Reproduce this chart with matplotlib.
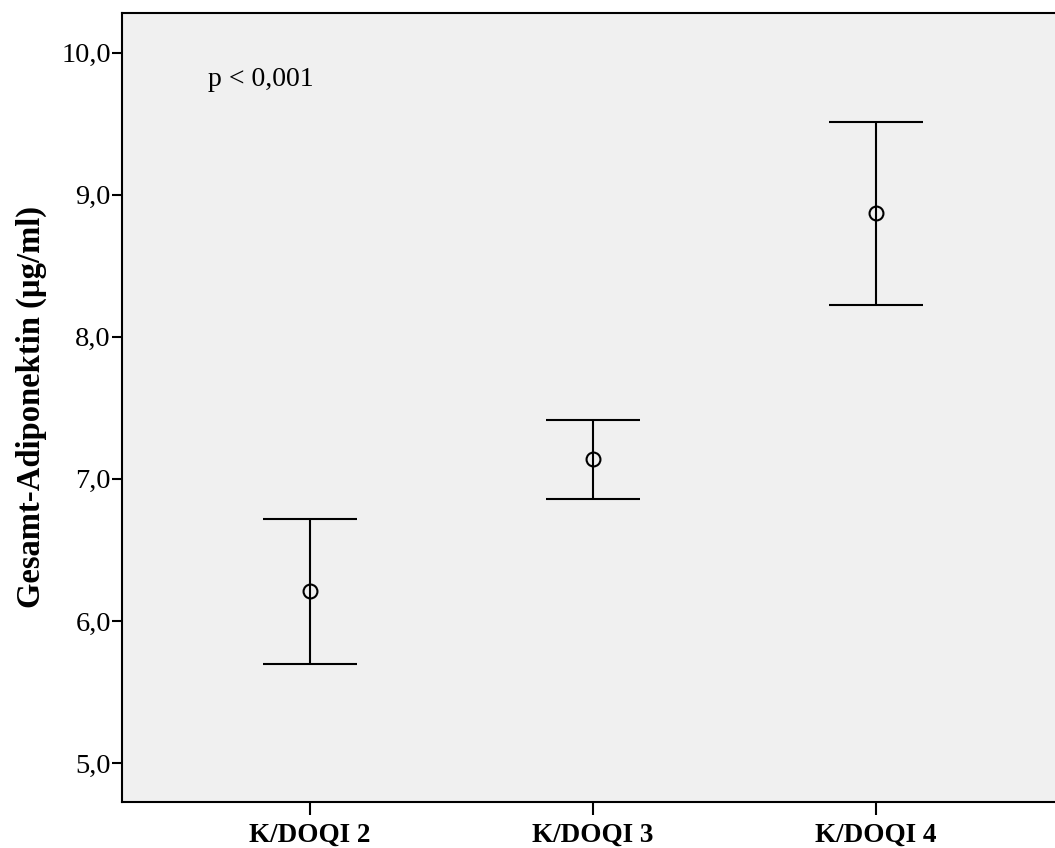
import matplotlib
matplotlib.use("Agg")
import matplotlib.pyplot as plt
from matplotlib.ticker import FuncFormatter

categories = ["K/DOQI 2", "K/DOQI 3", "K/DOQI 4"]
means = [6.21, 7.14, 8.87]
upper = [6.72, 7.415, 9.515]
lower = [5.70, 6.86, 8.225]
yticks = [5.0, 6.0, 7.0, 8.0, 9.0, 10.0]

plt.rcParams['font.family'] = ['Liberation Serif', 'DejaVu Serif']

fig = plt.figure(figsize=(10.55, 8.48), dpi=100)
ax = fig.add_axes([122/1055, 1-802/848, 1-122/1055, (802-13)/848])
ax.set_facecolor('#F0F0F0')

x = list(range(len(categories)))
yerr = [[m - l for m, l in zip(means, lower)], [u - m for m, u in zip(means, upper)]]
ax.errorbar(x, means, yerr=yerr, fmt='o', mfc='none', mec='black', ms=10, mew=1.5,
            ecolor='black', elinewidth=1.5, capsize=33.5, capthick=1.5, color='black')

ax.set_xlim(-0.664, 2.633)
ax.set_ylim(4.725, 10.28)
ax.set_xticks(x)
ax.set_xticklabels(categories, fontsize=19.5, fontweight='bold')
ax.set_yticks(yticks)
ax.yaxis.set_major_formatter(FuncFormatter(lambda v, p: f"{v:.1f}".replace('.', ',')))
ax.tick_params(axis='y', labelsize=20.5, length=7, width=1.5, direction='out', pad=1)
ax.tick_params(axis='x', length=9, width=1.5, direction='out', pad=6)
for s in ['left', 'bottom', 'top']:
    ax.spines[s].set_linewidth(1.5)
ax.spines['right'].set_visible(False)

ax.set_ylabel("Gesamt-Adiponektin (µg/ml)", fontsize=23.5, fontweight='bold', labelpad=10)
ax.text(-0.36, 9.81, "p < 0,001", fontsize=20, va='center', ha='left')

fig.savefig("out.png", dpi=100)
